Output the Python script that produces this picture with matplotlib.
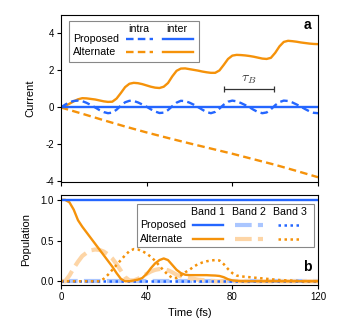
import matplotlib
matplotlib.use("Agg")
import matplotlib.pyplot as plt
from matplotlib.lines import Line2D
from matplotlib.patches import Rectangle

plt.rcParams['font.family'] = ['Liberation Sans', 'DejaVu Sans']
plt.rcParams['axes.unicode_minus'] = False
plt.rcParams['mathtext.fontset'] = 'cm'

BLUE = '#2466ff'
ORANGE = '#f5920a'
LBLUE = '#aac6ff'
LORANGE = '#fdd5a6'

# ---- panel a : current ----
t_cur = list(range(0, 121, 2))
prop_intra = [0.0, 0.15, 0.28, 0.35, 0.37, 0.34, 0.25, 0.13, 0.0, -0.14,
              -0.25, -0.31, -0.28, -0.12, 0.10, 0.28, 0.36, 0.35, 0.27, 0.16,
              0.04, -0.10, -0.22, -0.30, -0.28, -0.14, 0.07, 0.26, 0.36, 0.34,
              0.26, 0.15, 0.02, -0.12, -0.25, -0.31, -0.24, -0.06, 0.15, 0.31,
              0.37, 0.33, 0.24, 0.13, 0.01, -0.13, -0.25, -0.31, -0.27, -0.10,
              0.12, 0.29, 0.37, 0.35, 0.27, 0.16, 0.04, -0.09, -0.21, -0.29, -0.31]
alt_inter = [0.0, 0.08, 0.20, 0.33, 0.44, 0.50, 0.49, 0.46, 0.43, 0.38,
             0.33, 0.30, 0.31, 0.48, 0.78, 1.10, 1.28, 1.33, 1.31, 1.26,
             1.19, 1.12, 1.07, 1.05, 1.12, 1.32, 1.68, 1.98, 2.10, 2.11,
             2.07, 2.03, 1.99, 1.94, 1.90, 1.87, 1.87, 2.00, 2.30, 2.62,
             2.80, 2.84, 2.83, 2.81, 2.78, 2.74, 2.69, 2.64, 2.62, 2.68,
             2.95, 3.30, 3.54, 3.60, 3.58, 3.55, 3.51, 3.48, 3.45, 3.43, 3.42]
t_alt_intra = [0, 10, 20, 30, 40, 50, 60, 70, 80, 90, 100, 110, 120]
alt_intra = [0.0, -0.34, -0.69, -1.03, -1.35, -1.65, -1.94, -2.22, -2.50,
             -2.80, -3.10, -3.43, -3.77]
t_flat = [0, 120]
prop_inter = [0.0, 0.0]
tau_start, tau_end, tau_level = 76.0, 99.5, 1.0

# ---- panel b : population ----
t_pop = list(range(0, 121, 2))
alt_band1 = [1.0, 1.0, 0.97, 0.88, 0.75, 0.67, 0.60, 0.53, 0.46, 0.39,
             0.32, 0.25, 0.18, 0.10, 0.03, 0.0, 0.0, 0.01, 0.02, 0.04,
             0.09, 0.16, 0.22, 0.26, 0.28, 0.26, 0.20, 0.14, 0.10, 0.08,
             0.075, 0.075, 0.075, 0.075, 0.075, 0.072, 0.07, 0.065, 0.05, 0.025,
             0.01, 0.005, 0.0, 0.0, 0.0, 0.0, 0.0, 0.0, 0.0, 0.0,
             0.0, 0.0, 0.0, 0.0, 0.0, 0.0, 0.0, 0.0, 0.0, 0.0, 0.0]
alt_band2 = [0.0, 0.0, 0.07, 0.16, 0.24, 0.31, 0.35, 0.38, 0.39, 0.385,
             0.365, 0.33, 0.28, 0.21, 0.13, 0.05, 0.01, 0.01, 0.03, 0.06,
             0.09, 0.12, 0.14, 0.15, 0.15, 0.135, 0.11, 0.08, 0.06, 0.045,
             0.035, 0.03, 0.02, 0.015, 0.01, 0.005, 0.0, 0.0, 0.0, 0.0,
             0.0, 0.0, 0.0, 0.0, 0.0, 0.0, 0.0, 0.0, 0.0, 0.0,
             0.0, 0.0, 0.0, 0.0, 0.0, 0.0, 0.0, 0.0, 0.0, 0.0, 0.0]
alt_band3 = [0.0, 0.0, 0.0, 0.0, 0.0, 0.0, 0.0, 0.0, 0.0, 0.0,
             0.03, 0.08, 0.14, 0.20, 0.26, 0.32, 0.37, 0.395, 0.39, 0.37,
             0.34, 0.30, 0.25, 0.19, 0.13, 0.08, 0.04, 0.04, 0.07, 0.11,
             0.14, 0.18, 0.21, 0.23, 0.245, 0.255, 0.26, 0.255, 0.21, 0.15,
             0.10, 0.07, 0.06, 0.055, 0.05, 0.045, 0.04, 0.035, 0.03, 0.025,
             0.02, 0.015, 0.012, 0.01, 0.008, 0.005, 0.0, 0.0, 0.0, 0.0, 0.0]
prop_band1 = [1.0, 1.0]
prop_band2 = [0.0, 0.0]
prop_band3 = [0.0, 0.0]

fig = plt.figure(figsize=(3.38, 3.31), dpi=100)
ax1 = fig.add_axes([0.180, 0.450, 0.761, 0.505])
ax2 = fig.add_axes([0.180, 0.139, 0.761, 0.272])

LW = 1.7
DASH = (3.2, 1.8)
DASH2 = (4.0, 1.5)
DOT = (1.0, 1.4)

ax1.plot(t_alt_intra, alt_intra, color=ORANGE, lw=LW, dashes=DASH)
ax1.plot(t_cur, alt_inter, color=ORANGE, lw=LW)
ax1.plot(t_flat, prop_inter, color=BLUE, lw=LW)
ax1.plot(t_cur, prop_intra, color=BLUE, lw=LW, dashes=DASH)
ax1.errorbar([(tau_start + tau_end) / 2], [tau_level], xerr=[(tau_end - tau_start) / 2],
             color='#333333', lw=0.9, capsize=2.3, capthick=0.9)
ax1.text((tau_start + tau_end) / 2, tau_level + 0.15, r'$\tau_B$', ha='center', va='bottom',
         fontsize=10, color='#333333')

ax2.plot(t_flat, prop_band2, color=LBLUE, lw=3, dashes=DASH2, dash_capstyle='butt')
ax2.plot(t_pop, alt_band2, color=LORANGE, lw=3, dashes=DASH2, dash_capstyle='butt')
ax2.plot(t_flat, prop_band3, color=BLUE, lw=1.8, dashes=DOT, dash_capstyle='butt')
ax2.plot(t_pop, alt_band3, color=ORANGE, lw=1.8, dashes=DOT, dash_capstyle='butt')
ax2.plot(t_pop, alt_band1, color=ORANGE, lw=LW)
ax2.plot(t_flat, prop_band1, color=BLUE, lw=LW)

for ax in (ax1, ax2):
    ax.set_xlim(0, 120)
    ax.set_xticks([0, 40, 80, 120])
    ax.tick_params(direction='out', length=3, width=0.8, labelsize=7, pad=2,
                   top=False, right=False)
    for sp in ax.spines.values():
        sp.set_linewidth(0.8)

ax1.set_ylim(-4.03, 5.0)
ax1.set_yticks([-4, -2, 0, 2, 4])
ax1.set_xticklabels([])
ax1.set_ylabel('Current', fontsize=8)
ax1.yaxis.set_label_coords(-0.10, 0.5)

ax2.set_ylim(-0.046, 1.06)
ax2.set_yticks([0.0, 0.5, 1.0])
ax2.set_yticklabels(['0.0', '0.5', '1.0'])
ax2.set_ylabel('Population', fontsize=8)
ax2.yaxis.set_label_coords(-0.115, 0.5)
ax2.set_xlabel('Time (fs)', fontsize=8)
ax2.xaxis.set_label_coords(0.5, -0.26)

ax1.text(0.957, 0.94, 'a', transform=ax1.transAxes, fontsize=10, fontweight='bold',
         ha='center', va='center')
ax2.text(0.957, 0.20, 'b', transform=ax2.transAxes, fontsize=10, fontweight='bold',
         ha='center', va='center')


def add_line(ax, x0, x1, y, **kw):
    ax.add_line(Line2D([x0, x1], [y, y], transform=ax.transAxes, zorder=11, **kw))


# legend of panel a
ax1.add_patch(Rectangle((0.031, 0.719), 0.506, 0.245, transform=ax1.transAxes,
                        facecolor='white', edgecolor='#888888', lw=0.8, zorder=10))
ax1.text(0.304, 0.916, 'intra', transform=ax1.transAxes, fontsize=7.7, ha='center', va='center', zorder=11)
ax1.text(0.451, 0.916, 'inter', transform=ax1.transAxes, fontsize=7.7, ha='center', va='center', zorder=11)
for lab, col, yy in (('Proposed', BLUE, 0.856), ('Alternate', ORANGE, 0.778)):
    ax1.text(0.047, yy, lab, transform=ax1.transAxes, fontsize=7.7, ha='left', va='center', zorder=11)
    add_line(ax1, 0.253, 0.358, yy, color=col, lw=LW, dashes=DASH)
    add_line(ax1, 0.397, 0.514, yy, color=col, lw=LW)

# legend of panel b
ax2.add_patch(Rectangle((0.296, 0.422), 0.688, 0.478, transform=ax2.transAxes,
                        facecolor='white', edgecolor='#888888', lw=0.8, zorder=10))
for lab, xx in (('Band 1', 0.572), ('Band 2', 0.732), ('Band 3', 0.891)):
    ax2.text(xx, 0.811, lab, transform=ax2.transAxes, fontsize=7.7, ha='center', va='center', zorder=11)
for lab, c1, c2, yy in (('Proposed', BLUE, LBLUE, 0.667), ('Alternate', ORANGE, LORANGE, 0.511)):
    ax2.text(0.307, yy, lab, transform=ax2.transAxes, fontsize=7.7, ha='left', va='center', zorder=11)
    add_line(ax2, 0.514, 0.630, yy, color=c1, lw=LW)
    add_line(ax2, 0.677, 0.786, yy, color=c2, lw=3, dashes=DASH2, dash_capstyle='butt')
    add_line(ax2, 0.844, 0.938, yy, color=c1, lw=1.8, dashes=DOT, dash_capstyle='butt')

fig.savefig('out.png', dpi=100)
